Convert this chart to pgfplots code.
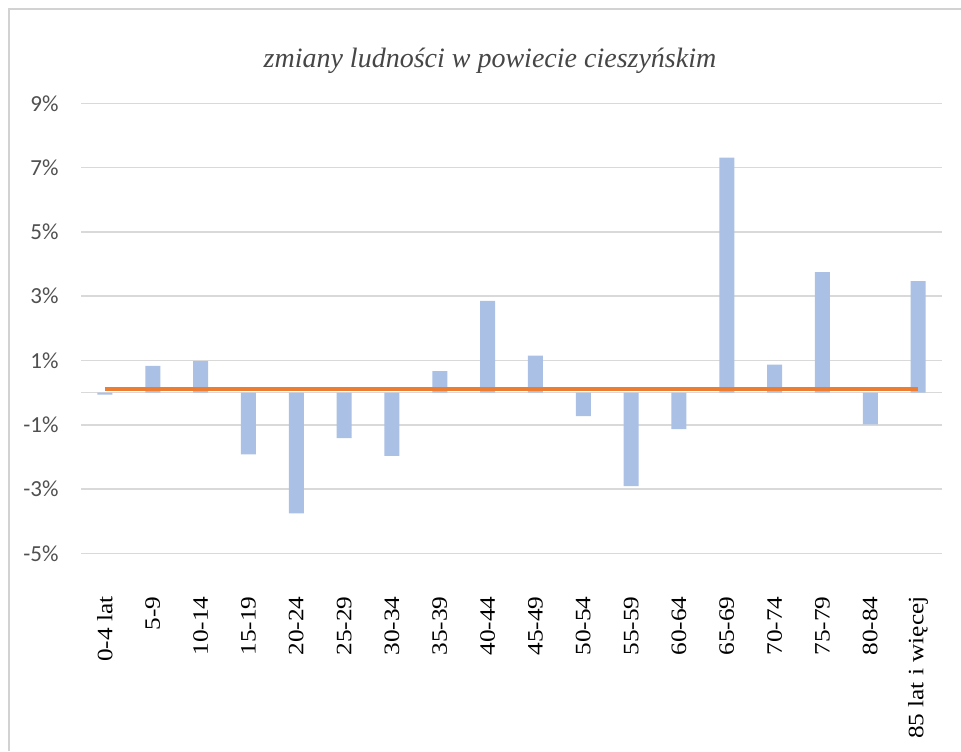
\documentclass[border=0pt]{standalone}
\usepackage{pgfplots}
\pgfplotsset{compat=1.18}
\usepackage{pgfplotstable}
\usepackage{fontspec}
\setmainfont{Liberation Serif}
\newfontfamily\carlito{Carlito}
\newfontfamily\xlab[FakeStretch=1.15]{Liberation Serif}
\definecolor{barblue}{RGB}{170,193,229}
\definecolor{orangeline}{RGB}{237,125,49}
\definecolor{gridgray}{RGB}{217,217,217}
\definecolor{labgray}{RGB}{80,80,80}
\definecolor{framegray}{RGB}{210,210,210}
\definecolor{titlegray}{RGB}{70,70,70}
\pgfplotstableread{
x y
0 -0.06
1 0.83
2 0.98
3 -1.92
4 -3.76
5 -1.42
6 -1.97
7 0.67
8 2.85
9 1.15
10 -0.73
11 -2.91
12 -1.14
13 7.31
14 0.87
15 3.75
16 -0.99
17 3.47
}\bars
\pgfplotstableread{
x y
0 0.1
1 0.1
2 0.1
3 0.1
4 0.1
5 0.1
6 0.1
7 0.1
8 0.1
9 0.1
10 0.1
11 0.1
12 0.1
13 0.1
14 0.1
15 0.1
16 0.1
17 0.1
}\avg
\begin{document}
\begin{tikzpicture}
\useasboundingbox (-40.5pt,-98.85pt) rectangle (440pt,276.65pt);
\fill[white] (-40.5pt,-98.85pt) rectangle (440pt,276.65pt);
\draw[line width=1pt, framegray] (-36pt,-98.85pt) -- (-36pt,272.15pt) -- (440pt,272.15pt);
\begin{axis}[
  at={(0pt,0pt)}, anchor=south west,
  scale only axis, width=430.5pt, height=225pt,
  xmin=-0.5, xmax=17.5, ymin=-5, ymax=9,
  axis line style={draw=none},
  major tick length=0pt, tick style={draw=none},
  ymajorgrids, grid style={gridgray, line width=0.8pt},
  ytick={-5,-3,-1,1,3,5,7,9},
  yticklabels={-5\%,-3\%,-1\%,1\%,3\%,5\%,7\%,9\%},
  extra y ticks={0}, extra y tick labels={},
  extra y tick style={grid=major},
  yticklabel style={font=\carlito\fontsize{11.5}{13}\selectfont, text=labgray},
  yticklabel shift=7.7pt,
  xtick={0,...,17},
  xticklabels={0-4 lat,5-9,10-14,15-19,20-24,25-29,30-34,35-39,40-44,45-49,50-54,55-59,60-64,65-69,70-74,75-79,80-84,85 lat i więcej},
  xticklabel style={rotate=90, anchor=east, font=\xlab\fontsize{11}{12}\selectfont},
  xticklabel shift=18pt,
  title={zmiany ludności w powiecie cieszyńskim},
  title style={at={(0.475,1.054)}, anchor=base, font=\fontsize{14}{16}\selectfont\itshape, text=titlegray},
]
\addplot[ybar, bar width=7.5pt, fill=barblue, draw=none] table[x=x,y=y] {\bars};
\addplot[orangeline, line width=2pt, no marks] table[x=x,y=y] {\avg};
\end{axis}
\end{tikzpicture}
\end{document}
